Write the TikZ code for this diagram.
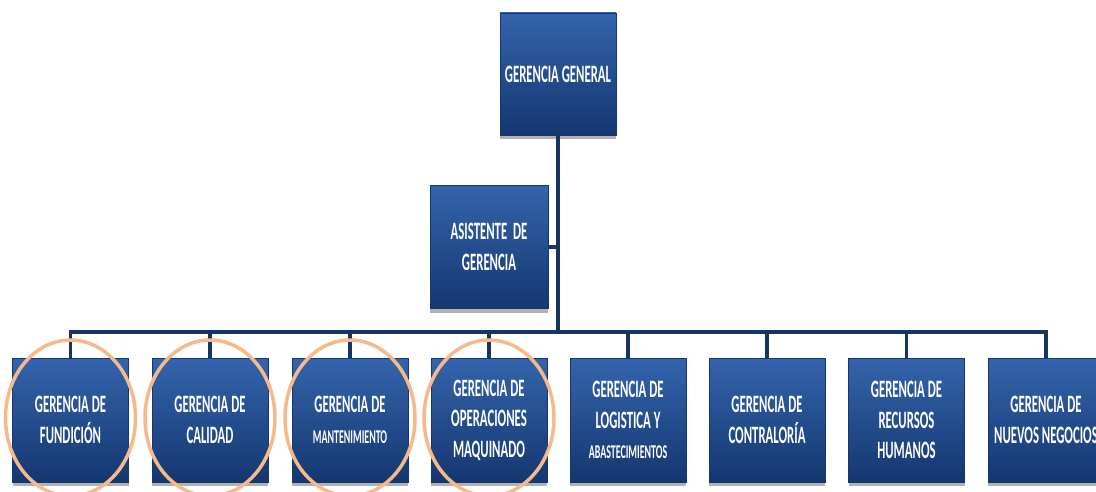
\documentclass[tikz,border=0pt]{standalone}
\usepackage{fontspec}
\newfontfamily\cfont[FakeStretch=0.51]{Carlito Bold}
\usetikzlibrary{shadows}
\definecolor{boxtop}{RGB}{52,100,172}
\definecolor{boxmid}{RGB}{28,72,140}
\definecolor{boxbot}{RGB}{20,55,112}
\definecolor{linec}{RGB}{24,52,96}
\definecolor{ringc}{RGB}{246,186,138}
\tikzset{
  orgbox/.style={rectangle, minimum width=116pt, minimum height=124pt, inner sep=0pt,
    top color=boxtop, middle color=boxmid, bottom color=boxbot, draw=boxbot, line width=0.6pt,
    text=white, align=center, font=\cfont\fontsize{25}{30.5}\selectfont,
    drop shadow={shadow xshift=0pt, shadow yshift=-4pt, opacity=0.3, fill=black}},
  link/.style={draw=linec, line width=3.5pt},
  ringline/.style={draw=ringc, line width=3.5pt}
}
\newcommand{\smalltxt}[1]{{\fontsize{19.5}{30.5}\selectfont #1}}
\begin{document}
\begin{tikzpicture}[x=1pt,y=1pt]
\useasboundingbox (0,0) rectangle (1096,-492);
\clip (0,0) rectangle (1096,-492);
\fill[white] (0,0) rectangle (1096,-492);
\coordinate (busy) at (0,-332);
\node[orgbox, minimum height=122pt] (gg) at (558,-74) {GERENCIA GENERAL};
\node[orgbox, minimum width=118pt, minimum height=123pt] (ag) at (489,-247) {ASISTENTE\ \ DE\\GERENCIA};
\node[orgbox] (b1) at (70.5,-420) {GERENCIA DE\\FUNDICIÓN};
\node[orgbox] (b2) at (210,-420) {GERENCIA DE\\CALIDAD};
\node[orgbox] (b3) at (350,-420) {GERENCIA DE\\\smalltxt{MANTENIMIENTO}};
\node[orgbox] (b4) at (489,-420) {GERENCIA DE\\OPERACIONES\\MAQUINADO};
\node[orgbox] (b5) at (628,-420) {GERENCIA DE\\LOGISTICA Y\\\smalltxt{ABASTECIMIENTOS}};
\node[orgbox] (b6) at (767,-420) {GERENCIA DE\\CONTRALORÍA};
\node[orgbox] (b7) at (906.5,-420) {GERENCIA DE\\RECURSOS\\HUMANOS};
\node[orgbox] (b8) at (1046,-420) {GERENCIA DE\\NUEVOS NEGOCIOS};
% connectors
\draw[link] (gg.south) -- (gg.south |- busy);
\draw[link] (ag.east) -- (ag.east -| gg.south);
\draw[link] (b1.north) -- (b1.north |- busy) -- (b8.north |- busy) -- (b8.north);
\foreach \b in {b2,b3,b4,b5,b6,b7} \draw[link] (\b.north) -- (\b.north |- busy);
% highlight rings
\foreach \b in {b1,b2,b3,b4} \draw[ringline] ([yshift=2pt]\b.center) ellipse [x radius=65pt, y radius=78pt];
\end{tikzpicture}
\end{document}
